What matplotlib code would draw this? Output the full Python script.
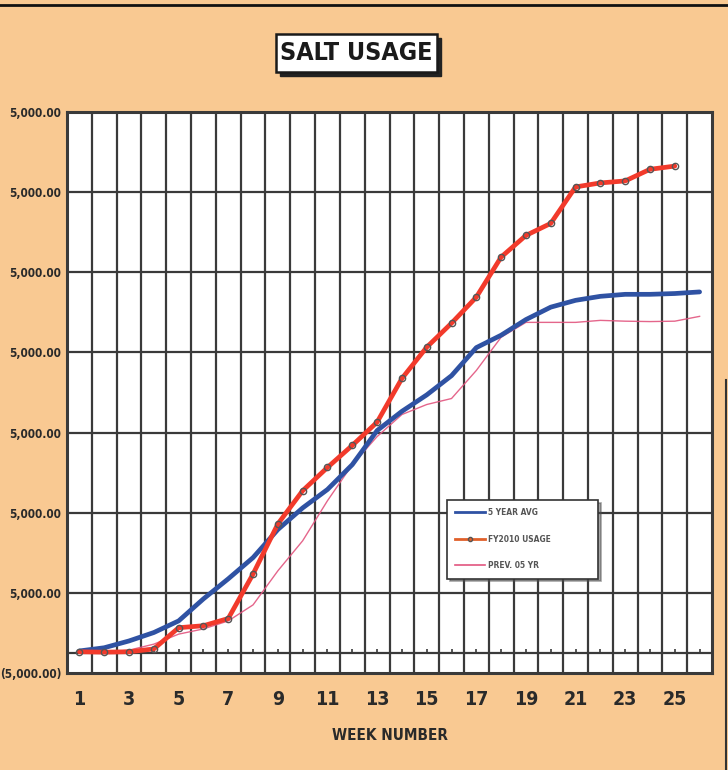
import matplotlib
matplotlib.use("Agg")
import matplotlib.pyplot as plt
from matplotlib.lines import Line2D
from matplotlib.patches import Rectangle
from matplotlib.font_manager import FontProperties

# ---------------- data ----------------
weeks_avg = list(range(1, 27))
avg_5yr = [500, 1300, 3000, 5100, 8000, 13500, 18500, 23800, 30800, 36200, 40800, 47000,
           55500, 60300, 64400, 69200, 76200, 79300, 83200, 86300, 88000, 89000, 89500,
           89500, 89700, 90100]

weeks_cur = list(range(1, 26))
cur_usage = [300, 200, 300, 1000, 6300, 6800, 8600, 19700, 32200, 40500, 46300, 51800,
             57600, 68500, 76300, 82300, 88800, 98800, 104200, 107200, 116300, 117300,
             117800, 120700, 121500]

weeks_prev = list(range(1, 27))
prev_usage = [0, 200, 700, 2200, 4700, 6000, 8000, 12000, 20500, 28000, 38000, 47000,
              54000, 59500, 62000, 63500, 70500, 78800, 82500, 82500, 82500, 83000, 82800,
              82700, 82800, 84000]

series_labels = ["5 YEAR AVG", "FY2010 USAGE", "PREV. 05 YR"]
y_ticks = [-5000, 15000, 35000, 55000, 75000, 95000, 115000, 135000]
y_tick_labels = ["(5,000.00)", "5,000.00", "5,000.00", "5,000.00", "5,000.00",
                 "5,000.00", "5,000.00", "5,000.00"]
x_ticks = list(range(1, 26, 2))
x_tick_labels = [str(v) for v in x_ticks]
title = "SALT USAGE"
x_label = "WEEK NUMBER"

# ---------------- style ----------------
BG = "#F9C992"
GRID = "#3a3a3a"
TXT = "#2a2a2a"


def fp(size):
    return FontProperties(family=["DejaVu Sans"], stretch="condensed", weight="bold",
                          size=size)


fig = plt.figure(figsize=(7.28, 7.70), dpi=100, facecolor=BG)
W, H = 728, 770
ax = fig.add_axes([67 / W, 1 - 673 / H, (712 - 67) / W, (673 - 112) / H])
ax.set_facecolor("white")

ax.set_xlim(0.5, 26.5)
ax.set_ylim(-5000, 135000)

# grid lines (category boundaries and value ticks)
for xv in [w + 0.5 for w in range(1, 26)]:
    ax.axvline(xv, color=GRID, lw=1.6, zorder=1)
for yv in y_ticks[1:-1]:
    ax.axhline(yv, color=GRID, lw=1.6, zorder=1)
# zero line with small week ticks
ax.axhline(0, color=GRID, lw=1.6, zorder=1)
for w in weeks_avg:
    ax.plot([w, w], [0, 1100], color=GRID, lw=1.2, zorder=1, solid_capstyle="butt")

for s in ax.spines.values():
    s.set_color(GRID)
    s.set_linewidth(2.2)

# series
ax.plot(weeks_prev, prev_usage, color="#E2557F", lw=1.0, zorder=3, alpha=0.9,
        label=series_labels[2])
ax.plot(weeks_avg, avg_5yr, color="#2F52A3", lw=3.4, zorder=4, label=series_labels[0],
        solid_capstyle="round")
ax.plot(weeks_cur, cur_usage, color="#F23A2B", lw=3.4, zorder=5, marker="o", ms=4.5,
        mfc="none", mec="#555555", mew=1.0, label=series_labels[1],
        solid_capstyle="round")

ax.set_xticks(x_ticks)
ax.set_xticklabels(x_tick_labels, fontproperties=fp(14), color=TXT)
ax.set_yticks(y_ticks)
ax.set_yticklabels(y_tick_labels, fontproperties=fp(8.5), color=TXT)
ax.tick_params(axis="x", length=0, pad=12)
ax.tick_params(axis="y", length=0, pad=4)
ax.set_xlabel(x_label, fontproperties=fp(11), color=TXT, labelpad=14)

# legend
handles = [
    Line2D([], [], color="#2F52A3", lw=2),
    Line2D([], [], color="#E0602A", lw=2, marker="o", ms=3, mfc="#E0602A", mec="#555555"),
    Line2D([], [], color="#E2557F", lw=1.2),
]
leg = ax.legend(handles, series_labels, loc="upper left",
                bbox_to_anchor=((447 - 67) / 645, (673 - 577) / 561, 151 / 645, 77 / 561),
                mode="expand",
                prop=FontProperties(family=["DejaVu Sans"], stretch="condensed",
                                    weight="bold", size=6),
                frameon=True, fancybox=False, shadow=True, borderpad=1.0,
                labelspacing=2.1, handlelength=3.6, handletextpad=0.3,
                borderaxespad=0, edgecolor="#333333")
leg.get_frame().set_linewidth(1.2)
leg.set_zorder(10)
for t in leg.get_texts():
    t.set_color("#555555")

# title with shadowed box
bx0, bx1, by0, by1 = 276, 437, 34, 72
fig.add_artist(Rectangle(((bx0 + 4) / W, 1 - (by1 + 4) / H), (bx1 - bx0) / W,
                         (by1 - by0) / H, transform=fig.transFigure,
                         fc="#222222", ec="#222222", lw=1, zorder=1))
fig.add_artist(Rectangle((bx0 / W, 1 - by1 / H), (bx1 - bx0) / W, (by1 - by0) / H,
                         transform=fig.transFigure, fc="white", ec="#1a1a1a", lw=1.8,
                         zorder=2))
fig.text((bx0 + bx1) / 2 / W, 1 - (by0 + by1) / 2 / H, title, ha="center", va="center",
         fontproperties=fp(18), color="#1a1a1a", zorder=3)

# scan edge lines (top and right border of the scanned page)
fig.add_artist(Line2D([0, 1], [1 - 5 / H, 1 - 5 / H], transform=fig.transFigure,
                      color="#111111", lw=2))
fig.add_artist(Line2D([726 / W, 726 / W], [0, 1 - 380 / H], transform=fig.transFigure,
                      color="#333333", lw=1.5))

fig.savefig("out.png", dpi=100, facecolor=BG)
